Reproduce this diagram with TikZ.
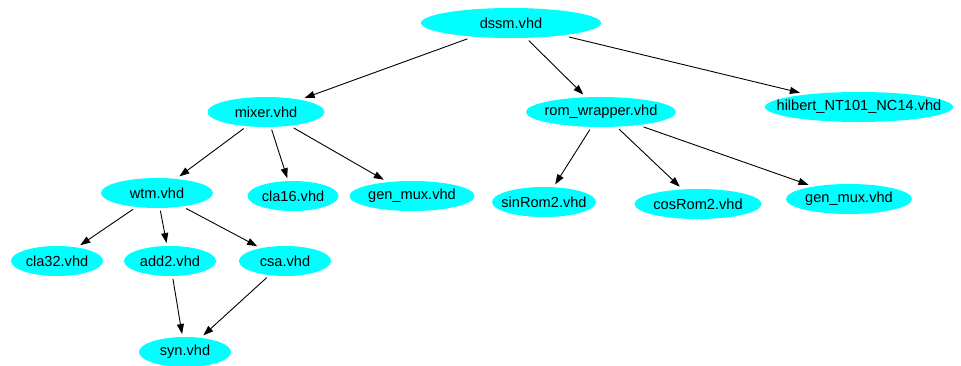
\documentclass[tikz,border=0pt]{standalone}
\usepackage{fontspec}
\setmainfont{Liberation Sans}
\usetikzlibrary{arrows.meta,shapes.geometric}
\definecolor{qqffff}{rgb}{0,1,1}
\newcommand{\vhdtext}[1]{\makebox[0pt]{#1}}

\begin{document}
\begin{tikzpicture}[line cap=round,line join=round,>={Triangle[length=10pt,width=7pt]},x=1pt,y=1pt,
	vhd/.style={ellipse,fill=qqffff,inner sep=0pt,minimum height=30pt,outer sep=3pt,font=\fontsize{14.6}{16}\selectfont}]
	\useasboundingbox (0,0) rectangle (961,-365);
	% top level
	\node[vhd,minimum width=180pt] (dssm) at (511,-23) {\vhdtext{dssm.vhd}};
	\node[vhd,minimum width=117pt] (mixer) at (266,-112) {\vhdtext{mixer.vhd}};
	\node[vhd,minimum width=150pt] (romwrapper) at (601,-112) {\vhdtext{rom\_wrapper.vhd}};
	\node[vhd,minimum width=188pt] (hilbert) at (859,-107) {\vhdtext{hilbert\_NT101\_NC14.vhd}};
	% second level
	\node[vhd,minimum width=112pt] (wtm) at (157,-193) {\vhdtext{wtm.vhd}};
	\node[vhd,minimum width=91pt] (cla16) at (293,-196) {\vhdtext{cla16.vhd}};
	\node[vhd,minimum width=125pt] (genmuxl) at (412,-196) {\vhdtext{gen\_mux.vhd}};
	\node[vhd,minimum width=104pt] (sinrom) at (544,-202) {\vhdtext{sinRom2.vhd}};
	\node[vhd,minimum width=127pt] (cosrom) at (698,-204) {\vhdtext{cosRom2.vhd}};
	\node[vhd,minimum width=126pt] (genmuxr) at (849,-199) {\vhdtext{gen\_mux.vhd}};
	% third level
	\node[vhd,minimum width=92pt] (cla32) at (57,-261) {\vhdtext{cla32.vhd}};
	\node[vhd,minimum width=92pt] (addtwo) at (170,-261) {\vhdtext{add2.vhd}};
	\node[vhd,minimum width=92pt] (csa) at (285,-261) {\vhdtext{csa.vhd}};
	\node[vhd,minimum width=92pt] (syn) at (185,-352) {\vhdtext{syn.vhd}};
	\begin{scope}[line width=0.9pt]
		\draw[->] (dssm) -- (mixer);
		\draw[->] (dssm) -- (romwrapper);
		\draw[->] (dssm) -- (hilbert);
		\draw[->] (mixer) -- (wtm);
		\draw[->] (mixer) -- (cla16);
		\draw[->] (mixer) -- (genmuxl);
		\draw[->] (romwrapper) -- (sinrom);
		\draw[->] (romwrapper) -- (cosrom);
		\draw[->] (romwrapper) -- (genmuxr);
		\draw[->] (wtm) -- (cla32);
		\draw[->] (wtm) -- (addtwo);
		\draw[->] (wtm) -- (csa);
		\draw[->] (addtwo) -- (syn);
		\draw[->] (csa) -- (syn);
	\end{scope}
\end{tikzpicture}
\end{document}
